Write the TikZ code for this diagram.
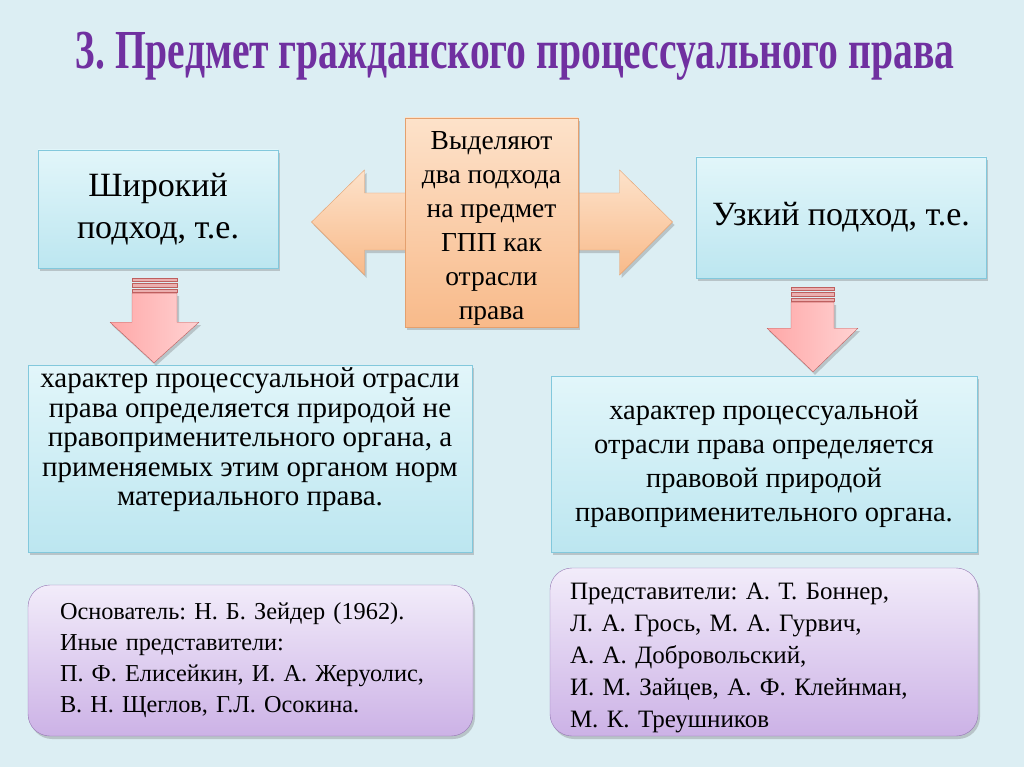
\documentclass[tikz,border=0pt]{standalone}
\usepackage{fontspec}
\setmainfont{Liberation Serif}
\newfontfamily\titlefont[FakeStretch=0.72]{Liberation Serif}
\usetikzlibrary{positioning, shadows, calc}
\frenchspacing

\definecolor{slidebg}{RGB}{220,238,243}
\definecolor{titlepurple}{RGB}{112,48,160}
\definecolor{cyantop}{RGB}{226,246,250}
\definecolor{cyanbot}{RGB}{188,230,240}
\definecolor{cyanline}{RGB}{130,200,220}
\definecolor{peachtop}{RGB}{253,226,202}
\definecolor{peachbot}{RGB}{248,186,138}
\definecolor{peachline}{RGB}{228,160,110}
\definecolor{pinkleft}{RGB}{255,168,168}
\definecolor{pinkright}{RGB}{255,210,210}
\definecolor{pinkline}{RGB}{190,95,95}
\definecolor{lilactop}{RGB}{242,236,250}
\definecolor{lilacbot}{RGB}{204,178,230}
\definecolor{lilacline}{RGB}{150,120,180}

\begin{document}
\begin{tikzpicture}[
    x=1pt, y=-1pt,
    font=\fontsize{29}{29.5}\selectfont,
    % Define styles
    softshadow/.style={
        drop shadow={shadow xshift=2pt, shadow yshift=-3pt, opacity=0.3, fill=black!60}
    },
    bluebox/.style={
        rectangle,
        draw=cyanline,
        top color=cyantop,
        bottom color=cyanbot,
        align=center,
        inner sep=0pt,
        softshadow
    },
    peachbox/.style={
        rectangle,
        draw=peachline,
        top color=peachtop,
        bottom color=peachbot,
        align=center,
        inner sep=0pt,
        font=\fontsize{27.5}{34}\selectfont
    },
    lilacbox/.style={
        rectangle,
        rounded corners=22pt,
        draw=lilacline,
        top color=lilactop,
        bottom color=lilacbot,
        align=left,
        inner ysep=0pt,
        font=\fontsize{24.3}{31}\selectfont,
        softshadow
    },
    bigarrow/.style={
        draw=peachline,
        top color=peachtop,
        bottom color=peachbot,
        softshadow
    },
    downarrow/.style={
        draw=pinkline,
        left color=pinkleft,
        right color=pinkright,
        line join=round,
        softshadow
    },
    stripe/.style={
        draw=pinkline,
        fill=pinkright!70!pinkline
    }
]

\useasboundingbox[fill=slidebg] (0,0) rectangle (1024,767);

% Title
\node[text=titlepurple, font=\titlefont\bfseries\fontsize{55}{58}\selectfont] (title) at (515,56)
    {3. Предмет гражданского процессуального права};

% Top row: two approaches and the centre
\node[bluebox, minimum width=240pt, minimum height=118pt, font=\fontsize{34}{42}\selectfont] (wide) at (158,209)
    {Широкий\\подход, т.е.};
\node[bluebox, minimum width=290pt, minimum height=121pt, font=\fontsize{34}{42}\selectfont] (narrow) at (841,217.5)
    {Узкий подход, т.е.};

% Double arrow behind the centre box
\coordinate (gppc) at (491.5,222);
\path[bigarrow] ($(gppc)+(-180,0)$) -- ++(53,-52) -- ++(0,23) -- ++(255,0) -- ++(0,-23)
    -- ++(53,52) -- ++(-53,53) -- ++(0,-25) -- ++(-255,0) -- ++(0,25) -- cycle;
\node[peachbox, minimum width=173pt, minimum height=209pt, softshadow] (gpp) at (491.5,222.5)
    {\rule{0pt}{30pt}Выделяют\\два подхода\\на предмет\\ГПП как\\отрасли\\права};

% Middle row: what each approach says
\node[bluebox, minimum width=444pt, minimum height=187pt, text depth=43pt] (widetext) at (250,458.5)
    {характер процессуальной отрасли\\права определяется природой не\\правоприменительного органа, а\\применяемых этим органом норм\\материального права.};
\node[bluebox, minimum width=426pt, minimum height=176pt, font=\fontsize{28.5}{34}\selectfont] (narrowtext) at (764,464)
    {характер процессуальной\\отрасли права определяется\\правовой природой\\правоприменительного органа.};

% Bottom row: representatives
\node[lilacbox, text width=381pt, inner xsep=32pt, minimum height=151pt] (widenames) at (250.5,660.5)
    {Основатель: Н. Б. Зейдер (1962).\\Иные представители:\\П. Ф. Елисейкин, И. А. Жеруолис,\\В. Н. Щеглов, Г.Л. Осокина.};
\node[lilacbox, text width=388pt, inner xsep=20pt, minimum height=168pt, font=\fontsize{25}{32}\selectfont] (narrownames) at (764,652)
    {\rule{0pt}{28pt}Представители: А. Т. Боннер,\\Л. А. Грось, М. А. Гурвич,\\А. А. Добровольский,\\И. М. Зайцев, А. Ф. Клейнман,\\М. К. Треушников};

% Down arrows
\coordinate (ltop) at ($(wide.south)+(-4,10)$);
\path[stripe] ($(ltop)+(-22,0)$) rectangle ++(45,3);
\path[stripe] ($(ltop)+(-22,5)$) rectangle ++(45,4);
\path[stripe] ($(ltop)+(-22,11)$) rectangle ++(45,3);
\path[downarrow] ($(ltop)+(-22,15)$) -- ++(45,0) -- ++(0,29) -- ++(22,0)
    -- ($(ltop |- widetext.north)+(0,-2)$) -- ($(ltop)+(-44,44)$) -- ++(22,0) -- cycle;

\coordinate (rtop) at ($(narrow.south)+(-28,9)$);
\path[stripe] ($(rtop)+(-22,0)$) rectangle ++(43,3);
\path[stripe] ($(rtop)+(-22,5)$) rectangle ++(43,4);
\path[stripe] ($(rtop)+(-22,11)$) rectangle ++(43,3);
\path[downarrow] ($(rtop)+(-22,15)$) -- ++(43,0) -- ++(0,26) -- ++(24,0)
    -- ($(rtop |- narrowtext.north)+(0,-4)$) -- ($(rtop)+(-46,41)$) -- ++(24,0) -- cycle;

\end{tikzpicture}
\end{document}
